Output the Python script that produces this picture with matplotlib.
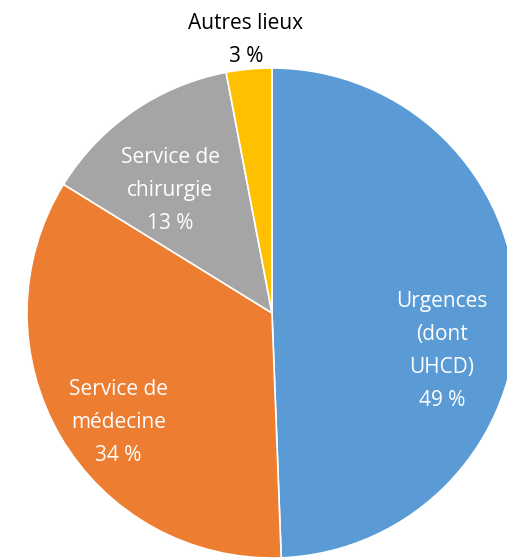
import matplotlib.pyplot as plt
import numpy as np

plt.rcParams['font.family'] = ['Open Sans', 'DejaVu Sans']

# Données du graphique
categories = ["Urgences\n(dont\nUHCD)", "Service de\nmédecine", "Service de\nchirurgie", "Autres lieux"]
valeurs = [49.4, 34.4, 13.2, 3.0]
pourcentages = ["49 %", "34 %", "13 %", "3 %"]
couleurs = ["#5B9BD5", "#ED7D31", "#A5A5A5", "#FFC000"]

W, H = 507, 558
fig = plt.figure(figsize=(W / 100, H / 100), dpi=100)
ax = fig.add_axes([0, 0, 1, 1])
ax.set_xlim(0, W)
ax.set_ylim(0, H)
ax.set_aspect('equal')

cx, cy, r = 272, H - 313, 245
ax.pie(valeurs, colors=couleurs, startangle=90, counterclock=False,
       center=(cx, cy), radius=r, frame=True,
       wedgeprops=dict(edgecolor='white', linewidth=1.2))
ax.axis('off')

# Position des étiquettes (angle en degrés, fraction du rayon)
positions = [(-12.5, 0.71), (215.5, 0.77), (129.7, 0.65), (None, None)]
for cat, pct, (ang, frac) in zip(categories, pourcentages, positions):
    if ang is None:
        ax.text(cx - 26, H - 40, cat + "\n" + pct, ha='center', va='center',
                fontsize=15, color='black', linespacing=1.75)
        continue
    x = cx + frac * r * np.cos(np.radians(ang))
    y = cy + frac * r * np.sin(np.radians(ang))
    ax.text(x, y, cat + "\n" + pct, ha='center', va='center',
            fontsize=15, color='white', linespacing=1.75)

fig.savefig("out.png", dpi=100)
